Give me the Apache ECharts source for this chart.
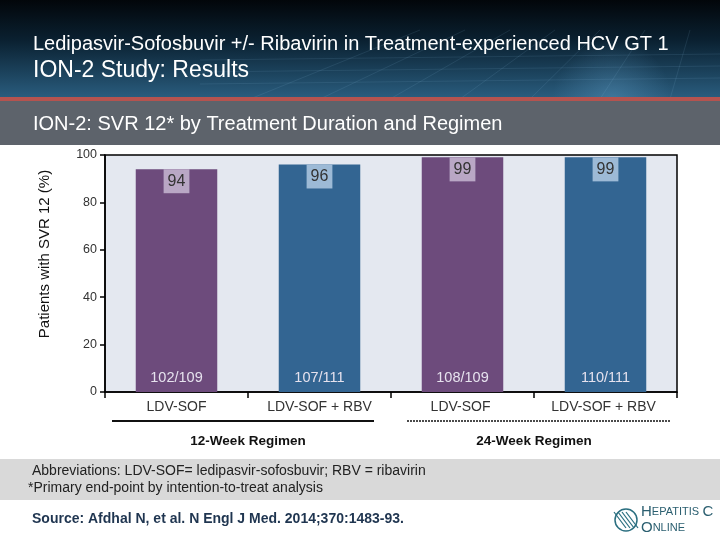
<!DOCTYPE html>
<html><head><meta charset="utf-8">
<script src="https://cdn.jsdelivr.net/npm/echarts@6/dist/echarts.min.js"></script>
<style>html,body{margin:0;padding:0;background:#fff}#c{width:720px;height:540px}</style>
</head><body><div id="c"></div>
<script>
var categories = ['LDV-SOF', 'LDV-SOF + RBV', 'LDV-SOF ', 'LDV-SOF + RBV '];
var svrValues = [94, 96, 99, 99];
var fractions = ['102/109', '107/111', '108/109', '110/111'];
var barColors = ['#6d4b7c', '#336592', '#6d4b7c', '#336592'];
var boxColors = ['#b9a7c5', '#9dbad6', '#b9a7c5', '#9dbad6'];
var groups = [{name: '12-Week Regimen', from: 0, to: 1, dashed: false}, {name: '24-Week Regimen', from: 2, to: 3, dashed: true}];
var yTicks = {min: 0, max: 100, interval: 20};
var yTitle = 'Patients with SVR 12 (%)';

var FONT = 'Liberation Sans, Arial, sans-serif';
var chart = echarts.init(document.getElementById('c'), null, {renderer: 'canvas'});

var headerGraphics = [
  {type: 'rect', shape: {x: 0, y: 0, width: 720, height: 99}, z: -10,
   style: {fill: new echarts.graphic.LinearGradient(0, 0, 0, 1, [
     {offset: 0, color: '#02060a'}, {offset: 0.4, color: '#0a2030'}, {offset: 1, color: '#2a5e80'}])}},
  {type: 'rect', shape: {x: 0, y: 0, width: 720, height: 99}, z: -9,
   style: {fill: new echarts.graphic.RadialGradient(0.85, 1, 0.6, [
     {offset: 0, color: 'rgba(90,150,190,0.45)'}, {offset: 1, color: 'rgba(90,150,190,0)'}])}},
  {type: 'rect', shape: {x: 0, y: 97, width: 720, height: 4}, z: -8,
   style: {fill: '#b5534f'}},
  {type: 'rect', shape: {x: 0, y: 101, width: 720, height: 44}, z: -8,
   style: {fill: '#5d636b'}},
  {type: 'text', x: 33, y: 44, style: {text: 'Ledipasvir-Sofosbuvir +/- Ribavirin in Treatment-experienced HCV GT 1', fill: '#fff', font: '20px ' + FONT, verticalAlign: 'middle'}},
  {type: 'text', x: 33, y: 71, style: {text: 'ION-2 Study: Results', fill: '#fff', font: '23px ' + FONT, verticalAlign: 'middle'}},
  {type: 'text', x: 33, y: 124, style: {text: 'ION-2: SVR 12* by Treatment Duration and Regimen', fill: '#fff', font: '20px ' + FONT, verticalAlign: 'middle'}},
  {type: 'text', x: 45, y: 254, rotation: Math.PI / 2, style: {text: yTitle, fill: '#111', font: '15px ' + FONT, align: 'center', verticalAlign: 'middle'}},
  {type: 'rect', shape: {x: 0, y: 459, width: 720, height: 41}, z: -9, style: {fill: '#d9d9d9'}},
  {type: 'text', x: 32, y: 471, style: {text: 'Abbreviations: LDV-SOF= ledipasvir-sofosbuvir; RBV = ribavirin', fill: '#222', font: '14px ' + FONT, verticalAlign: 'middle'}},
  {type: 'text', x: 28, y: 488, style: {text: '*Primary end-point by intention-to-treat analysis', fill: '#222', font: '14px ' + FONT, verticalAlign: 'middle'}},
  {type: 'text', x: 32, y: 519, style: {text: 'Source: Afdhal N, et al. N Engl J Med. 2014;370:1483-93.', fill: '#1f3550', font: 'bold 14px ' + FONT, verticalAlign: 'middle'}},
  {type: 'circle', shape: {cx: 626, cy: 520, r: 11}, style: {fill: '#fff', stroke: '#2b6f80', lineWidth: 1.5}},
  {type: 'text', x: 641, y: 512, style: {text: '{a|H}{b|EPATITIS} {a|C}', verticalAlign: 'middle',
    rich: {a: {fontSize: 15, fontFamily: FONT, fill: '#2b5f70'}, b: {fontSize: 11, fontFamily: FONT, fill: '#2b5f70'}}}},
  {type: 'text', x: 641, y: 528, style: {text: '{a|O}{b|NLINE}', verticalAlign: 'middle',
    rich: {a: {fontSize: 15, fontFamily: FONT, fill: '#2b5f70'}, b: {fontSize: 11, fontFamily: FONT, fill: '#2b5f70'}}}}
];
[-6, -2, 2, 6].forEach(function (d) {
  headerGraphics.push({type: 'line', shape: {x1: 620 + d, y1: 512, x2: 632 + d, y2: 528}, style: {stroke: '#2b6f80', lineWidth: 1.2}});
});
// faint perspective grid in header
for (var k = 0; k < 8; k++) {
  headerGraphics.push({type: 'line', z: -9, shape: {x1: 250 + k * 70, y1: 99, x2: 420 + k * 45, y2: 30},
    style: {stroke: 'rgba(140,190,220,0.12)', lineWidth: 1}});
}
[60, 72, 84].forEach(function (yy) {
  headerGraphics.push({type: 'line', z: -9, shape: {x1: 200, y1: yy, x2: 720, y2: yy - 6},
    style: {stroke: 'rgba(140,190,220,0.12)', lineWidth: 1}});
});

var option = {
  animation: false,
  backgroundColor: '#fff',
  grid: {left: 105, right: 43, top: 155, bottom: 148, show: true, backgroundColor: '#e4e8f0', borderColor: '#000', borderWidth: 1.5},
  xAxis: {
    type: 'category', data: categories,
    axisLine: {lineStyle: {color: '#000', width: 1.5}},
    axisTick: {show: true, length: 6, lineStyle: {color: '#000', width: 1.5}},
    axisLabel: {color: '#333', fontSize: 14, fontFamily: FONT, margin: 8}
  },
  yAxis: {
    type: 'value', min: yTicks.min, max: yTicks.max, interval: yTicks.interval,
    axisLine: {show: true, lineStyle: {color: '#000', width: 1.5}},
    axisTick: {show: true, length: 5, lineStyle: {color: '#000', width: 1.5}},
    axisLabel: {color: '#333', fontSize: 12.5, fontFamily: FONT, margin: 8},
    splitLine: {show: false}
  },
  series: [
    {
      type: 'bar', barWidth: '57%',
      data: svrValues.map(function (v, i) {
        return {value: v, itemStyle: {color: barColors[i]},
          label: {backgroundColor: boxColors[i]}};
      }),
      label: {show: true, position: 'insideTop', distance: 0, color: '#333', fontSize: 16, fontFamily: FONT, padding: [4, 4, 4, 4]}
    },
    {
      type: 'bar', barWidth: '57%', barGap: '-100%',
      data: svrValues,
      itemStyle: {color: 'rgba(0,0,0,0)'},
      label: {show: true, position: 'insideBottom', distance: 7, color: '#e6e2ee', fontSize: 14.5, fontFamily: FONT,
        formatter: function (p) { return fractions[p.dataIndex]; }},
      silent: true
    }
  ],
  graphic: headerGraphics
};
chart.setOption(option);

var c0 = chart.convertToPixel({xAxisIndex: 0}, categories[0]);
var c1 = chart.convertToPixel({xAxisIndex: 0}, categories[1]);
var band = c1 - c0;
var extra = [];
groups.forEach(function (g) {
  var a = chart.convertToPixel({xAxisIndex: 0}, categories[g.from]) - band / 2;
  var b = chart.convertToPixel({xAxisIndex: 0}, categories[g.to]) + band / 2;
  var x1 = a + (g.dashed ? 16 : 7), x2 = b - (g.dashed ? 6 : 17);
  extra.push({type: 'line', shape: {x1: x1, y1: 421, x2: x2, y2: 421},
    style: {stroke: '#111', lineWidth: g.dashed ? 1.5 : 2, lineDash: g.dashed ? [2, 1] : null}});
  extra.push({type: 'text', x: (a + b) / 2, y: 441, style: {text: g.name, fill: '#111', font: 'bold 13.5px ' + FONT, align: 'center', verticalAlign: 'middle'}});
});
chart.setOption({graphic: headerGraphics.concat(extra)});
</script></body></html>
